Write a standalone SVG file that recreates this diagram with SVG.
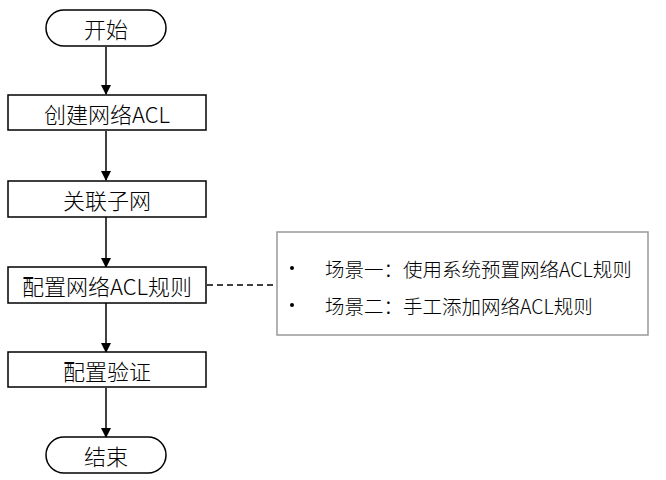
<svg xmlns="http://www.w3.org/2000/svg" width="666" height="480" viewBox="0 0 666 480">
<defs>
<style>
.n{fill:#fff;stroke:#000;stroke-width:1.5}
.t{font-family:"Noto Sans CJK SC","Noto Sans",sans-serif;font-size:22px;font-weight:300;fill:#000;text-anchor:middle;dominant-baseline:central}
.nt{font-family:"Noto Sans CJK SC","Noto Sans",sans-serif;font-size:19.5px;font-weight:300;fill:#000;dominant-baseline:central}
.c{stroke:#000;stroke-width:1.5;fill:none}
</style>
<marker id="ah" markerWidth="10" markerHeight="10" refX="9" refY="5" orient="auto" markerUnits="userSpaceOnUse">
<path d="M0,0 L10,5 L0,10 Z" fill="#000"/>
</marker>
</defs>
<rect width="666" height="480" fill="#fff"/>
<g id="connectors">
<line class="c" x1="106" y1="47" x2="106" y2="94" marker-end="url(#ah)"/>
<line class="c" x1="106" y1="131" x2="106" y2="180" marker-end="url(#ah)"/>
<line class="c" x1="106" y1="217" x2="106" y2="267" marker-end="url(#ah)"/>
<line class="c" x1="106" y1="303" x2="106" y2="352" marker-end="url(#ah)"/>
<line class="c" x1="106" y1="388" x2="106" y2="437" marker-end="url(#ah)"/>
<line class="c" x1="207" y1="285" x2="277" y2="285" stroke-dasharray="6,4"/>
</g>
<g id="start">
<rect class="n" x="46" y="10" width="120" height="36" rx="18"/>
<text class="t" x="106" y="28">开始</text>
</g>
<g id="create">
<rect class="n" x="8" y="95" width="198" height="35"/>
<text class="t" x="107" y="113">创建网络ACL</text>
</g>
<g id="assoc">
<rect class="n" x="8" y="181" width="198" height="36"/>
<text class="t" x="107" y="199">关联子网</text>
</g>
<g id="rules">
<rect class="n" x="8" y="267" width="198" height="36"/>
<text class="t" x="107" y="285">配置网络ACL规则</text>
</g>
<g id="verify">
<rect class="n" x="8" y="352" width="198" height="35"/>
<text class="t" x="107" y="370">配置验证</text>
</g>
<g id="end">
<rect class="n" x="46" y="437" width="120" height="36" rx="18"/>
<text class="t" x="106" y="455">结束</text>
</g>
<g id="note">
<rect x="277" y="232" width="371" height="103" fill="#fff" stroke="#999" stroke-width="1.5"/>
<circle cx="292" cy="268" r="2" fill="#000"/>
<circle cx="292" cy="305" r="2" fill="#000"/>
<text class="nt" x="325" y="268">场景一：使用系统预置网络ACL规则</text>
<text class="nt" x="325" y="305">场景二：手工添加网络ACL规则</text>
</g>
</svg>
